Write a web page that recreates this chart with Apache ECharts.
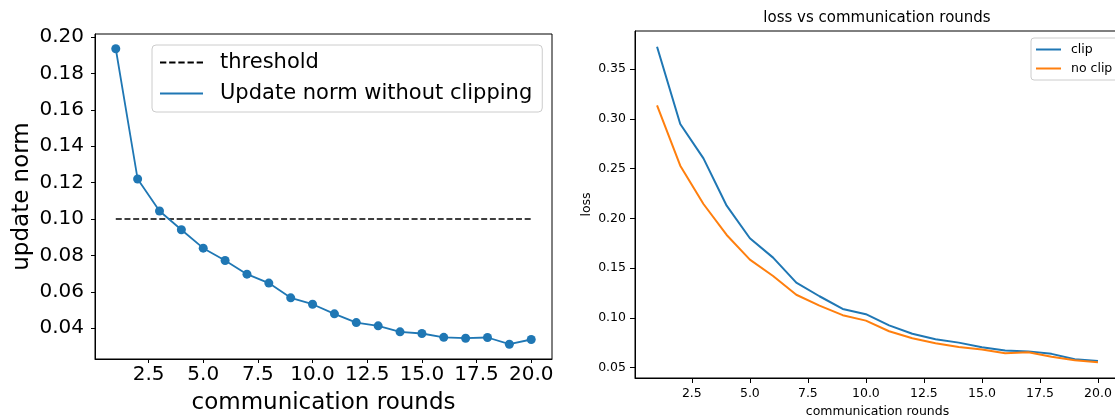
<!DOCTYPE html>
<html><head><meta charset="utf-8">
<script src="https://cdn.jsdelivr.net/npm/echarts@6/dist/echarts.min.js"></script>
<style>html,body{margin:0;padding:0;background:#fff}#c{width:1115px;height:416px}</style>
</head><body><div id="c"></div>
<script>
// ---- data ----
const rounds = [1,2,3,4,5,6,7,8,9,10,11,12,13,14,15,16,17,18,19,20];
const updateNorm = [0.1936,0.1220,0.1044,0.0941,0.0840,0.0772,0.0697,0.0648,0.0567,0.0532,0.0479,0.0431,0.0413,0.0380,0.0371,0.0350,0.0345,0.0349,0.0312,0.0338];
const thresholdValue = 0.1;
const lossClip = [0.3724,0.2948,0.2603,0.2127,0.1800,0.1605,0.1354,0.1217,0.1089,0.1037,0.0924,0.0840,0.0785,0.0751,0.0705,0.0671,0.0663,0.0638,0.0584,0.0567];
const lossNoClip = [0.3135,0.2529,0.2144,0.1833,0.1585,0.1421,0.1232,0.1123,0.1027,0.0972,0.0865,0.0795,0.0745,0.0708,0.0681,0.0645,0.0655,0.0610,0.0574,0.0554];
const xTicks = [2.5,5,7.5,10,12.5,15,17.5,20];
const leftYTicks = [0.04,0.06,0.08,0.10,0.12,0.14,0.16,0.18,0.20];
const rightYTicks = [0.05,0.10,0.15,0.20,0.25,0.30,0.35];

// ---- helpers ----
const FF = 'DejaVu Sans';
function pad(lo, hi){ const r = hi - lo; return [lo - r*0.05, hi + r*0.05]; }
const xr = pad(Math.min(...rounds), Math.max(...rounds));
const ly = pad(Math.min(...updateNorm, thresholdValue), Math.max(...updateNorm, thresholdValue));
const ry = pad(Math.min(...lossClip, ...lossNoClip), Math.max(...lossClip, ...lossNoClip));
const pairs = (a) => rounds.map((r,i)=>[r,a[i]]);

function xAxis(idx, fs, margin, name, nfs, gap){
  return {type:'value', gridIndex:idx, min:xr[0], max:xr[1],
    splitLine:{show:false},
    axisLine:{show:true, onZero:false, lineStyle:{color:'#000', width:1}},
    axisTick:{show:true, length:idx?5:4, customValues:xTicks, lineStyle:{color:'#000'}},
    axisLabel:{customValues:xTicks, fontSize:fs, fontFamily:FF, color:'#000', margin:margin, formatter:v=>v.toFixed(1)},
    name:name, nameLocation:'middle', nameGap:gap, nameTextStyle:{fontSize:nfs, fontFamily:FF, color:'#000'}};
}
function yAxis(idx, rng, ticks, fs, margin, name, nfs, gap){
  return {type:'value', gridIndex:idx, min:rng[0], max:rng[1],
    splitLine:{show:false},
    axisLine:{show:true, onZero:false, lineStyle:{color:'#000', width:1}},
    axisTick:{show:true, length:idx?5:4, customValues:ticks, lineStyle:{color:'#000'}},
    axisLabel:{customValues:ticks, fontSize:fs, fontFamily:FF, color:'#000', margin:margin, formatter:v=>v.toFixed(2)},
    name:name, nameLocation:'middle', nameGap:gap, nameTextStyle:{fontSize:nfs, fontFamily:FF, color:'#000'}};
}

const dashIcon = 'path://M0,0H6V2H0Z M8.7,0H14.7V2H8.7Z M17.4,0H23.4V2H17.4Z M26.1,0H32.1V2H26.1Z M34.8,0H40.8V2H34.8Z';

const option = {
  animation:false,
  backgroundColor:'#fff',
  title:{text:'loss vs communication rounds', left:877, top:11, textAlign:'center', padding:0,
    textStyle:{fontSize:15, fontWeight:'normal', color:'#000', fontFamily:FF}},
  grid:[
    {left:95, top:34, width:457, height:325, show:true, borderColor:'#000', borderWidth:1, backgroundColor:'transparent', containLabel:false, outerBoundsMode:'none'},
    {left:635, top:31, width:485, height:347, show:true, borderColor:'#000', borderWidth:1, backgroundColor:'transparent', containLabel:false, outerBoundsMode:'none'}
  ],
  xAxis:[ xAxis(0, 20, 6, 'communication rounds', 23, 33), xAxis(1, 12.5, 9, 'communication rounds', 12.5, 25) ],
  yAxis:[ yAxis(0, ly, leftYTicks, 20, 11, 'update norm', 23, 61), yAxis(1, ry, rightYTicks, 12.5, 9, 'loss', 12.5, 42) ],
  legend:[
    {orient:'vertical', left:152, top:45, symbolKeepAspect:false,
     data:[{name:'threshold', icon:dashIcon},{name:'Update norm without clipping', icon:'rect'}],
     itemWidth:43, itemHeight:2, itemGap:10,
     textStyle:{fontSize:21, fontFamily:FF, color:'#000', padding:[0,0,0,12]},
     padding:[7,10,8,8], borderColor:'#cccccc', borderWidth:1, borderRadius:4, backgroundColor:'rgba(255,255,255,0.8)'},
    {orient:'vertical', left:1031, top:38, symbolKeepAspect:false,
     data:[{name:'clip', icon:'rect'},{name:'no clip', icon:'rect'}],
     itemWidth:25, itemHeight:2, itemGap:6,
     textStyle:{fontSize:12.5, fontFamily:FF, color:'#000', padding:[0,0,0,5]},
     padding:[5,6,5,5], borderColor:'#cccccc', borderWidth:1, borderRadius:3, backgroundColor:'rgba(255,255,255,0.8)'}
  ],
  series:[
    {type:'line', name:'threshold', xAxisIndex:0, yAxisIndex:0, data:[[rounds[0],thresholdValue],[rounds[rounds.length-1],thresholdValue]],
     symbol:'none', lineStyle:{color:'#000', width:1.6, type:[6,2.7]}, itemStyle:{color:'#000'}, z:2},
    {type:'line', name:'Update norm without clipping', xAxisIndex:0, yAxisIndex:0, data:pairs(updateNorm),
     symbol:'circle', symbolSize:9, lineStyle:{color:'#1f77b4', width:1.8}, itemStyle:{color:'#1f77b4'}, z:3},
    {type:'line', name:'clip', xAxisIndex:1, yAxisIndex:1, data:pairs(lossClip),
     symbol:'none', lineStyle:{color:'#1f77b4', width:2}, itemStyle:{color:'#1f77b4'}, z:3},
    {type:'line', name:'no clip', xAxisIndex:1, yAxisIndex:1, data:pairs(lossNoClip),
     symbol:'none', lineStyle:{color:'#ff7f0e', width:2}, itemStyle:{color:'#ff7f0e'}, z:3}
  ]
};
const chart = echarts.init(document.getElementById('c'), null, {renderer:'canvas'});
chart.setOption(option);
</script>
</body></html>
